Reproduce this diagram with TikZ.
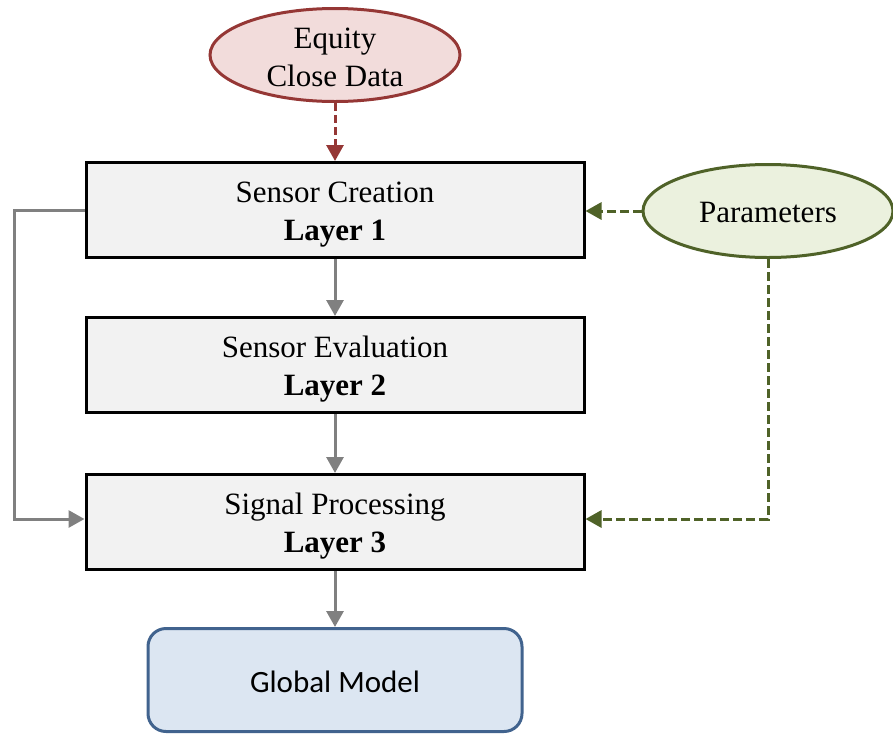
\documentclass[tikz,border=0pt]{standalone}
\usepackage{fontspec}
\setmainfont{Liberation Serif}
\newfontfamily\labelsans{Carlito}
\usetikzlibrary{arrows.meta,shapes.geometric}

\definecolor{datared}{HTML}{953735}
\definecolor{datafill}{HTML}{F2DCDB}
\definecolor{paramgreen}{HTML}{4F6228}
\definecolor{paramfill}{HTML}{EBF1DE}
\definecolor{flowgray}{HTML}{808080}
\definecolor{layerfill}{HTML}{F2F2F2}
\definecolor{modelblue}{HTML}{41638E}
\definecolor{modelfill}{HTML}{DCE6F2}

% extra room above the first text line, to sit the text a little lower
\newcommand{\toppad}[1]{\rule{0pt}{#1}}

\tikzset{
  txt/.style={font=\fontsize{31}{38}\selectfont, align=center, text=black},
  layerbox/.style={txt, draw=black, fill=layerfill, line width=3pt,
    minimum width=498pt, minimum height=95pt, inner sep=0pt},
  dataoval/.style={txt, ellipse, draw=datared, fill=datafill, line width=3pt,
    minimum width=250pt, minimum height=93pt, inner sep=0pt},
  paramoval/.style={txt, ellipse, draw=paramgreen, fill=paramfill, line width=3pt,
    minimum width=250pt, minimum height=93pt, inner sep=0pt},
  modelbox/.style={draw=modelblue, fill=modelfill, line width=3pt, rounded corners=18pt,
    minimum width=374pt, minimum height=103pt, inner sep=0pt,
    font=\labelsans\fontsize{31}{37}\selectfont, text=black},
  tip/.style={-{Triangle[length=16pt,width=17pt]}},
  flow/.style={draw=flowgray, line width=3pt, tip},
  datadash/.style={draw=datared, line width=3pt, dash pattern=on 8pt off 4pt, tip},
  paramdash/.style={draw=paramgreen, line width=3pt, dash pattern=on 9pt off 4pt, tip},
}

\begin{document}
\begin{tikzpicture}[x=1pt,y=-1pt]
\useasboundingbox (0,0) rectangle (893,734);

% inputs
\node[dataoval] (data) at (335,55) {\toppad{26pt}Equity\\Close Data};
\node[paramoval] (par) at (768,211) {\toppad{24pt}Parameters};

% processing layers
\node[layerbox] (l1) at (335,210) {\toppad{29pt}Sensor Creation\\\textbf{Layer 1}};
\node[layerbox] (l2) at (335,365) {\toppad{29pt}Sensor Evaluation\\\textbf{Layer 2}};
\node[layerbox] (l3) at (335,522) {\toppad{29pt}Signal Processing\\\textbf{Layer 3}};

% output
\node[modelbox] (gm) at (335,680) {\toppad{25pt}Global Model};

% main flow
\draw[datadash] (data.south) -- (l1.north);
\draw[flow] (l1.south) -- (l2.north);
\draw[flow] (l2.south) -- (l3.north);
\draw[flow] (l3.south) -- (gm.north);

% bypass from layer 1 to layer 3
\coordinate (bypass) at (14,0);
\draw[flow] (l1.west) -- (l1.west -| bypass) |- ([yshift=3pt]l3.west);

% parameter feeds
\draw[paramdash] (par.west) -- (par.west -| l1.east);
\draw[paramdash] (par.south) |- ([yshift=3pt]l3.east);
\end{tikzpicture}
\end{document}
